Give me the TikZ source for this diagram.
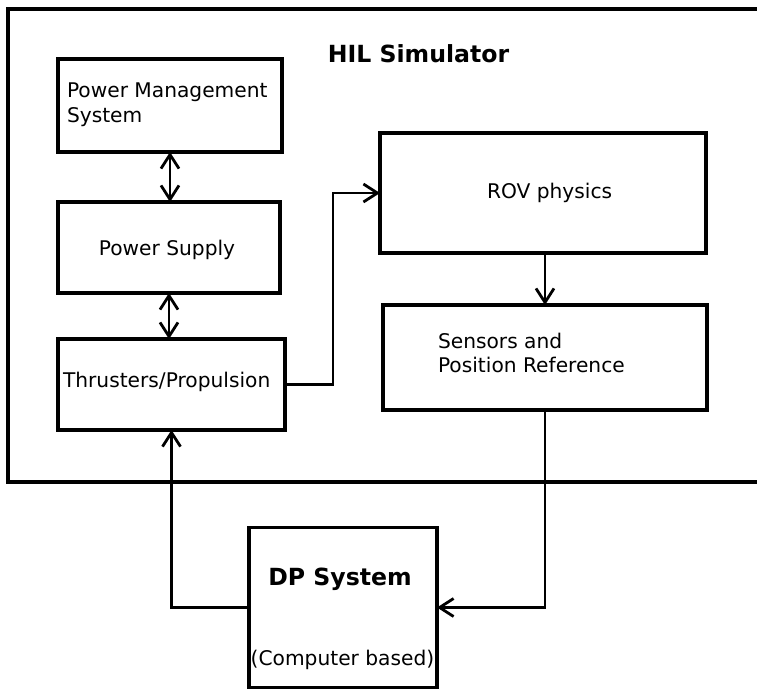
\documentclass[tikz,border=0pt]{standalone}
\usepackage{fontspec}
\setmainfont{DejaVu Sans}
\usetikzlibrary{arrows.meta}
\begin{document}
\begin{tikzpicture}[x=1pt,y=-1pt,
  box/.style={draw=black, line width=3.3pt, inner sep=0pt, outer sep=0pt, fill=white},
  conn/.style={draw=black, line width=2.8pt, line join=miter},
  tip/.style={-{Straight Barb[length=14pt,width=18pt,line width=2.8pt]}},
  dtip/.style={{Straight Barb[length=14pt,width=18pt,line width=2.8pt]}-{Straight Barb[length=14pt,width=18pt,line width=2.8pt]}},
  txt/.style={inner sep=0pt, outer sep=0pt, font=\fontsize{20.2pt}{25pt}\selectfont},
  btxt/.style={inner sep=0pt, outer sep=0pt, font=\fontsize{23.6pt}{28pt}\selectfont\bfseries}]
\useasboundingbox (0,0) rectangle (757,689);
\fill[white] (0,0) rectangle (757,689);
% outer frame (right side runs off the picture)
\coordinate (fbl) at (8,482);
\coordinate (ftl) at (8,9);
\draw[line width=3.3pt] (780,9) -- (ftl) -- (fbl) -- (780,482);
% boxes
\node[box, minimum width=224pt, minimum height=93pt] (pms) at (170,105.5) {};
\node[box, minimum width=222pt, minimum height=91pt] (ps) at (169,247.5) {};
\node[box, minimum width=227pt, minimum height=91pt] (thr) at (171.5,384.5) {};
\node[box, minimum width=326pt, minimum height=120pt] (rov) at (543,193) {};
\node[box, minimum width=324pt, minimum height=105pt] (sens) at (545,357.5) {};
\node[box, minimum width=188pt, minimum height=160pt] (dp) at (343,607.5) {};
% texts
\node[btxt, anchor=base] (title) at (418.5,62) {HIL Simulator};
\node[txt, anchor=base west] (pms1) at (67,97) {Power Management};
\node[txt, anchor=base west] (pms2) at (67,122) {System};
\node[txt, anchor=base] (pst) at (167,255) {Power Supply};
\node[txt, anchor=base west] (thrt) at (63,387) {Thrusters/Propulsion};
\node[txt, anchor=base west] (rovt) at (487,198) {ROV physics};
\node[txt, anchor=base west] (sens1) at (438,348) {Sensors and};
\node[txt, anchor=base west] (sens2) at (438,372) {Position Reference};
\node[btxt, anchor=base] (dpt) at (340,585) {DP System};
\node[txt, anchor=base] (dpc) at (342.5,665) {(Computer based)};
% connectors
\draw[conn, dtip] (pms.south) -- (pms.south |- ps.north);
\draw[conn, dtip] (ps.south) -- (ps.south |- thr.north);
\coordinate (bend1) at (333,384.5);
\draw[conn, tip] (thr.east) -- (bend1) |- (rov.west);
\draw[conn, tip] (sens.north |- rov.south) -- (sens.north);
\draw[conn, tip] (sens.south) |- (dp.east);
\draw[conn, tip] (dp.west) -| (thr.south);
\end{tikzpicture}
\end{document}
